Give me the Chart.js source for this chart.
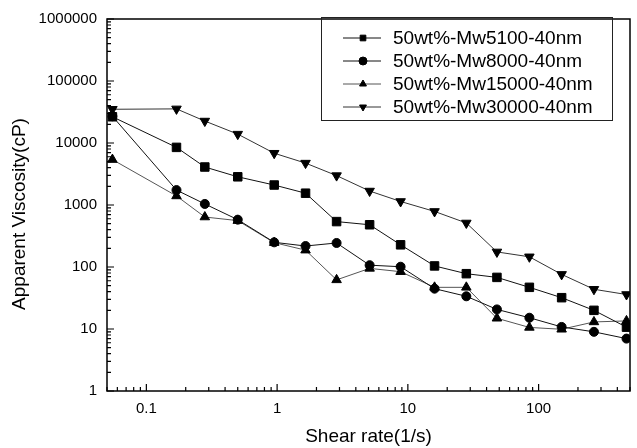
<!DOCTYPE html>
<html>
<head>
<meta charset="utf-8">
<script src="https://cdn.jsdelivr.net/npm/chart.js@4.4.1/dist/chart.umd.min.js"></script>
<style>
html,body{margin:0;padding:0;background:#fff;}
#wrap{width:637px;height:448px;}
</style>
</head>
<body>
<div id="wrap"><canvas id="c1" width="637" height="448"></canvas></div>
<script>
// =========================
// DADOS
// =========================
const shearRate = [0.055, 0.17, 0.28, 0.5, 0.95, 1.65, 2.85, 5.1, 8.8, 16, 28, 48, 85, 150, 265, 470];

const mw5100  = [26500, 8500, 4100, 2850, 2100, 1550, 540, 480, 228, 104, 78, 68, 47, 32, 20, 10.7];
const mw8000  = [27000, 1740, 1040, 580, 250, 218, 244, 107, 101, 44.7, 33.7, 20.7, 15.2, 10.8, 9.0, 7.0];
const mw15000 = [5400, 1400, 640, 560, 247, 187, 62, 95, 84, 47, 47, 14.9, 10.6, 9.9, 13, 13.5];
const mw30000 = [35000, 35500, 22600, 13900, 6840, 4740, 2980, 1680, 1140, 787, 513, 175, 146, 76, 43.7, 36];

const seriesNames = ["50wt%-Mw5100-40nm", "50wt%-Mw8000-40nm", "50wt%-Mw15000-40nm", "50wt%-Mw30000-40nm"];

const xTicks = [0.1, 1, 10, 100];
const yTicks = [1, 10, 100, 1000, 10000, 100000, 1000000];

const yTitle = "Apparent Viscosity(cP)";

const FONT = "'Liberation Sans', Arial, sans-serif";

function pts(arr){
    return arr.map((v, i) => ({ x: shearRate[i], y: v }));
}

// =========================
// FRAME + TICKS PARA DENTRO
// =========================
const framePlugin = {
    id: "frame",
    beforeDatasetsDraw(chart){
        const ctx = chart.ctx;
        const a = chart.chartArea;
        const xs = chart.scales.x;
        const ys = chart.scales.y;

        ctx.save();
        ctx.strokeStyle = "#000";
        ctx.lineWidth = 1.5;
        ctx.strokeRect(a.left, a.top, a.right - a.left, a.bottom - a.top);

        ctx.lineWidth = 1.2;
        ctx.beginPath();
        for(let k = -2; k <= 6; k++){
            for(let m = 1; m <= 9; m++){
                let v = m * Math.pow(10, k);
                let len = m === 1 ? 7 : 4;
                if(v >= xs.min && v <= xs.max && k <= 2){
                    let px = xs.getPixelForValue(v);
                    ctx.moveTo(px, a.bottom);
                    ctx.lineTo(px, a.bottom - len);
                }
                if(k >= 0 && v >= ys.min && v <= ys.max){
                    let py = ys.getPixelForValue(v);
                    ctx.moveTo(a.left, py);
                    ctx.lineTo(a.left + len, py);
                }
            }
        }
        ctx.stroke();

        // titulo do eixo Y
        ctx.translate(20, 214);
        ctx.rotate(-Math.PI / 2);
        ctx.font = "19px " + FONT;
        ctx.fillStyle = "#000";
        ctx.textAlign = "center";
        ctx.textBaseline = "middle";
        ctx.fillText(yTitle, 0, 0);
        ctx.restore();
    }
};

// =========================
// LEGENDA DENTRO DO GRÁFICO
// =========================
const legendPlugin = {
    id: "boxLegend",
    afterDraw(chart){
        const ctx = chart.ctx;
        ctx.save();
        ctx.strokeStyle = "#222";
        ctx.lineWidth = 1;
        ctx.strokeRect(321.5, 17.5, 291, 103);

        ctx.font = "19px " + FONT;
        ctx.textBaseline = "middle";

        chart.data.datasets.forEach((ds, i) => {
            let y = 38 + i * 23;
            ctx.strokeStyle = ds.borderColor;
            ctx.lineWidth = 1;
            ctx.beginPath();
            ctx.moveTo(343, y);
            ctx.lineTo(381, y);
            ctx.stroke();

            ctx.fillStyle = "#000";
            ctx.strokeStyle = "#000";
            Chart.helpers.drawPoint(ctx, {
                pointStyle: ds.pointStyle,
                rotation: ds.pointRotation || 0,
                radius: 4,
                borderWidth: 1
            }, 363, y);

            ctx.fillStyle = "#000";
            ctx.fillText(seriesNames[i], 393, y + 1);
        });
        ctx.restore();
    }
};

function mkDataset(i, arr, style, rot, radius, color){
    return {
        label: seriesNames[i],
        data: pts(arr),
        borderColor: color,
        borderWidth: 1,
        backgroundColor: "#000",
        pointBackgroundColor: "#000",
        pointBorderColor: "#000",
        pointStyle: style,
        pointRotation: rot,
        pointRadius: radius,
        tension: 0
    };
}

// =========================
// GRÁFICO
// =========================
const ctx1 = document.getElementById("c1").getContext("2d");

const chart1 = new Chart(ctx1, {
    type: "line",
    data: {
        datasets: [
            mkDataset(0, mw5100, "rect", 0, 6, "#111"),
            mkDataset(1, mw8000, "circle", 0, 4.5, "#111"),
            mkDataset(2, mw15000, "triangle", 0, 5.5, "#555"),
            mkDataset(3, mw30000, "triangle", 180, 5.5, "#333")
        ]
    },
    options: {
        responsive: false,
        animation: false,
        layout: { padding: { top: 14, right: 2, left: 0, bottom: 0 } },
        plugins: {
            legend: { display: false },
            tooltip: { enabled: false }
        },
        scales: {
            x: {
                type: "logarithmic",
                min: 0.05,
                max: 500,
                grid: { display: false, drawTicks: false },
                border: { display: false },
                afterBuildTicks: s => { s.ticks = xTicks.map(v => ({ value: v })); },
                afterFit: s => { s.height = 57; },
                ticks: {
                    color: "#000",
                    padding: 9,
                    maxRotation: 0,
                    autoSkip: false,
                    font: { family: FONT, size: 15 },
                    callback: v => String(v)
                },
                title: {
                    display: true,
                    text: "Shear rate(1/s)",
                    color: "#000",
                    font: { family: FONT, size: 19 },
                    padding: { top: 2, bottom: 0 }
                }
            },
            y: {
                type: "logarithmic",
                min: 1,
                max: 1000000,
                grid: { display: false, drawTicks: false },
                border: { display: false },
                afterBuildTicks: s => { s.ticks = yTicks.map(v => ({ value: v })); },
                afterFit: s => { s.width = 107; },
                ticks: {
                    color: "#000",
                    padding: 10,
                    autoSkip: false,
                    font: { family: FONT, size: 15 },
                    callback: v => String(v)
                },
                title: { display: false }
            }
        }
    },
    plugins: [framePlugin, legendPlugin]
});
</script>
</body>
</html>
